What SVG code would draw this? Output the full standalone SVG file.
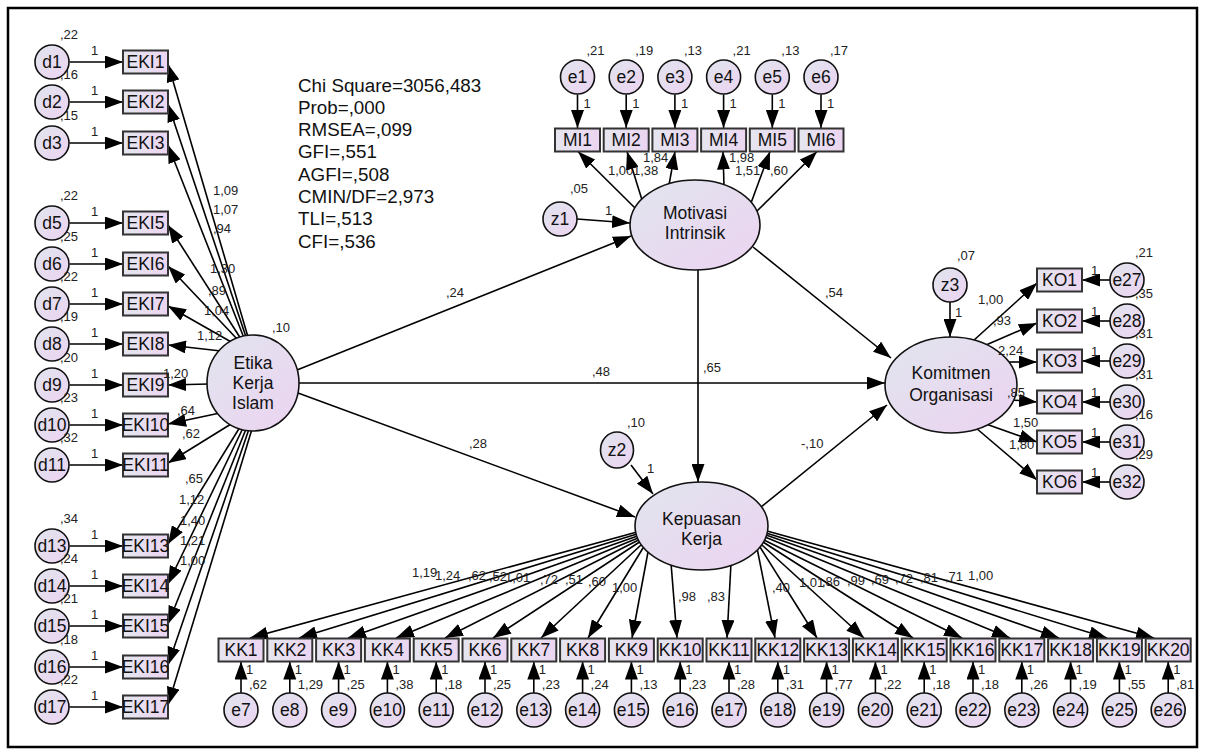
<svg xmlns="http://www.w3.org/2000/svg" width="1205" height="754" viewBox="0 0 1205 754">
<defs>
<linearGradient id="gn" x1="0" y1="0" x2="1" y2="1"><stop offset="0" stop-color="#e1e5ee"/><stop offset="1" stop-color="#ecd3f1"/></linearGradient>
<linearGradient id="gb" x1="0" y1="0" x2="1" y2="0"><stop offset="0" stop-color="#e5e6ef"/><stop offset="1" stop-color="#ecd5f1"/></linearGradient>
<marker id="ah" markerWidth="18" markerHeight="13" refX="18" refY="6.5" orient="auto" markerUnits="userSpaceOnUse"><path d="M0,0 L18,6.5 L0,13 z" fill="#000"/></marker>
<style>
.n{fill:url(#gn);stroke:#111;stroke-width:1.6}
.b{fill:url(#gb);stroke:#333;stroke-width:2}
.t{font-family:"Liberation Sans",Arial,sans-serif;font-size:17.5px;text-anchor:middle;fill:#111}
.s{font-family:"Liberation Sans",Arial,sans-serif;font-size:13px;fill:#222}
.st{font-family:"Liberation Sans",Arial,sans-serif;font-size:18.8px;fill:#111}
.c line{stroke:#000;stroke-width:1.6;marker-end:url(#ah)}
</style>
</defs>
<rect x="8" y="8" width="1189" height="739" fill="#fff" stroke="#000" stroke-width="2.5"/>
<g id="fit-stats" class="st">
<text x="298" y="91.5">Chi Square=3056,483</text>
<text x="298" y="113.8">Prob=,000</text>
<text x="298" y="136.1">RMSEA=,099</text>
<text x="298" y="158.4">GFI=,551</text>
<text x="298" y="180.7">AGFI=,508</text>
<text x="298" y="203">CMIN/DF=2,973</text>
<text x="298" y="225.3">TLI=,513</text>
<text x="298" y="247.6">CFI=,536</text>
</g>
<g id="path-labels-under" class="s"><text x="608" y="175">1,00</text></g>
<g id="connectors" class="c">
<line x1="69.5" y1="62" x2="123" y2="62"/><line x1="69.5" y1="102" x2="123" y2="102"/><line x1="69.5" y1="143" x2="123" y2="143"/><line x1="69.5" y1="223" x2="123" y2="223"/><line x1="69.5" y1="264" x2="123" y2="264"/><line x1="69.5" y1="304" x2="123" y2="304"/><line x1="69.5" y1="344" x2="123" y2="344"/><line x1="69.5" y1="385" x2="123" y2="385"/><line x1="69.5" y1="425" x2="123" y2="425"/><line x1="69.5" y1="465" x2="123" y2="465"/><line x1="69.5" y1="546" x2="123" y2="546"/><line x1="69.5" y1="586" x2="123" y2="586"/><line x1="69.5" y1="626" x2="123" y2="626"/><line x1="69.5" y1="667" x2="123" y2="667"/><line x1="69.5" y1="707" x2="123" y2="707"/>
<line x1="248" y1="337" x2="168" y2="64"/><line x1="246" y1="337" x2="168" y2="104"/><line x1="244" y1="338" x2="168" y2="145"/><line x1="241" y1="339" x2="168" y2="225"/><line x1="238" y1="340" x2="168" y2="266"/><line x1="233" y1="343" x2="168" y2="306"/><line x1="221" y1="351" x2="168" y2="345"/><line x1="209" y1="384" x2="168" y2="385"/><line x1="220" y1="413" x2="168" y2="424"/><line x1="231" y1="424" x2="168" y2="463"/><line x1="240" y1="427" x2="168" y2="544"/><line x1="243" y1="428" x2="168" y2="584"/><line x1="246" y1="429" x2="168" y2="624"/><line x1="249" y1="429" x2="168" y2="665"/><line x1="252" y1="429" x2="168" y2="705"/>
<line x1="577.5" y1="94.5" x2="577.5" y2="128"/><line x1="626.2" y1="94.5" x2="626.2" y2="128"/><line x1="674.9" y1="94.5" x2="674.9" y2="128"/><line x1="723.6" y1="94.5" x2="723.6" y2="128"/><line x1="772.3" y1="94.5" x2="772.3" y2="128"/><line x1="821" y1="94.5" x2="821" y2="128"/>
<line x1="635" y1="208" x2="578" y2="151.5"/><line x1="642" y1="200" x2="627" y2="151.5"/><line x1="669" y1="185" x2="675" y2="151.5"/><line x1="724" y1="186" x2="723" y2="151.5"/><line x1="751" y1="203" x2="770" y2="151.5"/><line x1="756" y1="212" x2="817" y2="151.5"/>
<line x1="577" y1="219" x2="630" y2="223"/>
<line x1="297" y1="370" x2="631" y2="236"/>
<line x1="299" y1="383" x2="885" y2="383"/>
<line x1="298" y1="393" x2="635" y2="517"/>
<line x1="753" y1="247" x2="891" y2="358"/>
<line x1="698" y1="268" x2="698" y2="482"/>
<line x1="761" y1="507" x2="887" y2="405"/>
<line x1="631" y1="465" x2="653" y2="494"/>
<line x1="950" y1="302" x2="950" y2="337"/>
<line x1="973" y1="341" x2="1037" y2="283"/><line x1="986" y1="345" x2="1037" y2="323"/><line x1="1008" y1="362" x2="1037" y2="362"/><line x1="1012" y1="400" x2="1037" y2="402"/><line x1="986" y1="424" x2="1037" y2="442"/><line x1="976" y1="428" x2="1037" y2="480"/>
<line x1="1110" y1="280" x2="1082" y2="280"/><line x1="1110" y1="321" x2="1082" y2="321"/><line x1="1110" y1="361" x2="1082" y2="361"/><line x1="1110" y1="402" x2="1082" y2="402"/><line x1="1110" y1="442" x2="1082" y2="442"/><line x1="1110" y1="482" x2="1082" y2="482"/>
<line x1="637" y1="532" x2="250" y2="638"/><line x1="637" y1="534" x2="299" y2="638"/><line x1="637.5" y1="536" x2="348" y2="638"/><line x1="638" y1="538" x2="396" y2="638"/><line x1="638.5" y1="540" x2="445" y2="638"/><line x1="639.5" y1="542" x2="493" y2="638"/><line x1="641" y1="545" x2="541" y2="638"/><line x1="643" y1="548" x2="588" y2="638"/><line x1="648" y1="552" x2="632" y2="638"/><line x1="671" y1="563" x2="677" y2="638"/><line x1="731" y1="563" x2="727" y2="638"/><line x1="757" y1="548" x2="775" y2="638"/><line x1="760" y1="547" x2="817" y2="638"/><line x1="762" y1="545" x2="864" y2="638"/><line x1="763" y1="542" x2="913" y2="638"/><line x1="764" y1="540" x2="962" y2="638"/><line x1="765" y1="537" x2="1010" y2="638"/><line x1="766" y1="535" x2="1059" y2="638"/><line x1="766" y1="533" x2="1107" y2="638"/><line x1="767" y1="531" x2="1154" y2="638"/>
<line x1="241" y1="693" x2="241" y2="661.5"/><line x1="289.8" y1="693" x2="289.8" y2="661.5"/><line x1="338.6" y1="693" x2="338.6" y2="661.5"/><line x1="387.4" y1="693" x2="387.4" y2="661.5"/><line x1="436.2" y1="693" x2="436.2" y2="661.5"/><line x1="485" y1="693" x2="485" y2="661.5"/><line x1="533.8" y1="693" x2="533.8" y2="661.5"/><line x1="582.6" y1="693" x2="582.6" y2="661.5"/><line x1="631.4" y1="693" x2="631.4" y2="661.5"/><line x1="680.2" y1="693" x2="680.2" y2="661.5"/><line x1="729" y1="693" x2="729" y2="661.5"/><line x1="777.8" y1="693" x2="777.8" y2="661.5"/><line x1="826.6" y1="693" x2="826.6" y2="661.5"/><line x1="875.4" y1="693" x2="875.4" y2="661.5"/><line x1="924.2" y1="693" x2="924.2" y2="661.5"/><line x1="973" y1="693" x2="973" y2="661.5"/><line x1="1021.8" y1="693" x2="1021.8" y2="661.5"/><line x1="1070.6" y1="693" x2="1070.6" y2="661.5"/><line x1="1119.4" y1="693" x2="1119.4" y2="661.5"/><line x1="1168.2" y1="693" x2="1168.2" y2="661.5"/>
</g>
<g id="etika"><ellipse class="n" cx="253" cy="383" rx="46" ry="48"/><text class="t" x="253" y="369">Etika</text><text class="t" x="253" y="389">Kerja</text><text class="t" x="253" y="409">Islam</text><text class="s" x="272" y="332">,10</text></g>
<g id="motivasi"><ellipse class="n" cx="695" cy="225" rx="65" ry="45"/><text class="t" x="695" y="219">Motivasi</text><text class="t" x="695" y="239">Intrinsik</text></g>
<g id="kepuasan"><ellipse class="n" cx="701.5" cy="526" rx="66.5" ry="44"/><text class="t" x="701.5" y="525">Kepuasan</text><text class="t" x="701.5" y="545">Kerja</text></g>
<g id="komitmen"><ellipse class="n" cx="951" cy="385" rx="66" ry="48"/><text class="t" x="951" y="379">Komitmen</text><text class="t" x="951" y="401">Organisasi</text></g>
<g id="z1"><circle class="n" cx="560" cy="219" r="17"/><text class="t" x="560" y="225">z1</text><text class="s" x="570" y="193">,05</text></g>
<g id="z2"><ellipse class="n" cx="617" cy="450" rx="16.5" ry="18"/><text class="t" x="617" y="456">z2</text><text class="s" x="627" y="427">,10</text></g>
<g id="z3"><circle class="n" cx="950" cy="285" r="17"/><text class="t" x="950" y="291">z3</text><text class="s" x="957" y="260">,07</text></g>
<g id="d1"><circle class="n" cx="52" cy="62" r="17"/><text class="t" x="52" y="68">d1</text><text class="s" x="60" y="39">,22</text></g>
<g id="d2"><circle class="n" cx="52" cy="102" r="17"/><text class="t" x="52" y="108">d2</text><text class="s" x="60" y="79">,16</text></g>
<g id="d3"><circle class="n" cx="52" cy="143" r="17"/><text class="t" x="52" y="149">d3</text><text class="s" x="60" y="120">,15</text></g>
<g id="d5"><circle class="n" cx="52" cy="223" r="17"/><text class="t" x="52" y="229">d5</text><text class="s" x="60" y="200">,22</text></g>
<g id="d6"><circle class="n" cx="52" cy="264" r="17"/><text class="t" x="52" y="270">d6</text><text class="s" x="60" y="241">,25</text></g>
<g id="d7"><circle class="n" cx="52" cy="304" r="17"/><text class="t" x="52" y="310">d7</text><text class="s" x="60" y="281">,22</text></g>
<g id="d8"><circle class="n" cx="52" cy="344" r="17"/><text class="t" x="52" y="350">d8</text><text class="s" x="60" y="321">,19</text></g>
<g id="d9"><circle class="n" cx="52" cy="385" r="17"/><text class="t" x="52" y="391">d9</text><text class="s" x="60" y="362">,20</text></g>
<g id="d10"><circle class="n" cx="52" cy="425" r="17"/><text class="t" x="52" y="431">d10</text><text class="s" x="60" y="402">,23</text></g>
<g id="d11"><circle class="n" cx="52" cy="465" r="17"/><text class="t" x="52" y="471">d11</text><text class="s" x="60" y="442">,32</text></g>
<g id="d13"><circle class="n" cx="52" cy="546" r="17"/><text class="t" x="52" y="552">d13</text><text class="s" x="60" y="523">,34</text></g>
<g id="d14"><circle class="n" cx="52" cy="586" r="17"/><text class="t" x="52" y="592">d14</text><text class="s" x="60" y="563">,24</text></g>
<g id="d15"><circle class="n" cx="52" cy="626" r="17"/><text class="t" x="52" y="632">d15</text><text class="s" x="60" y="603">,21</text></g>
<g id="d16"><circle class="n" cx="52" cy="667" r="17"/><text class="t" x="52" y="673">d16</text><text class="s" x="60" y="644">,18</text></g>
<g id="d17"><circle class="n" cx="52" cy="707" r="17"/><text class="t" x="52" y="713">d17</text><text class="s" x="60" y="684">,22</text></g>
<g id="EKI1"><rect class="b" x="123" y="50.5" width="45" height="23"/><text class="t" x="145.5" y="68">EKI1</text></g>
<g id="EKI2"><rect class="b" x="123" y="90.5" width="45" height="23"/><text class="t" x="145.5" y="108">EKI2</text></g>
<g id="EKI3"><rect class="b" x="123" y="131.5" width="45" height="23"/><text class="t" x="145.5" y="149">EKI3</text></g>
<g id="EKI5"><rect class="b" x="123" y="211.5" width="45" height="23"/><text class="t" x="145.5" y="229">EKI5</text></g>
<g id="EKI6"><rect class="b" x="123" y="252.5" width="45" height="23"/><text class="t" x="145.5" y="270">EKI6</text></g>
<g id="EKI7"><rect class="b" x="123" y="292.5" width="45" height="23"/><text class="t" x="145.5" y="310">EKI7</text></g>
<g id="EKI8"><rect class="b" x="123" y="332.5" width="45" height="23"/><text class="t" x="145.5" y="350">EKI8</text></g>
<g id="EKI9"><rect class="b" x="123" y="373.5" width="45" height="23"/><text class="t" x="145.5" y="391">EKI9</text></g>
<g id="EKI10"><rect class="b" x="123" y="413.5" width="45" height="23"/><text class="t" x="145.5" y="431">EKI10</text></g>
<g id="EKI11"><rect class="b" x="123" y="453.5" width="45" height="23"/><text class="t" x="145.5" y="471">EKI11</text></g>
<g id="EKI13"><rect class="b" x="123" y="534.5" width="45" height="23"/><text class="t" x="145.5" y="552">EKI13</text></g>
<g id="EKI14"><rect class="b" x="123" y="574.5" width="45" height="23"/><text class="t" x="145.5" y="592">EKI14</text></g>
<g id="EKI15"><rect class="b" x="123" y="614.5" width="45" height="23"/><text class="t" x="145.5" y="632">EKI15</text></g>
<g id="EKI16"><rect class="b" x="123" y="655.5" width="45" height="23"/><text class="t" x="145.5" y="673">EKI16</text></g>
<g id="EKI17"><rect class="b" x="123" y="695.5" width="45" height="23"/><text class="t" x="145.5" y="713">EKI17</text></g>
<g id="e1"><circle class="n" cx="577.5" cy="77" r="17"/><text class="t" x="577.5" y="83">e1</text><text class="s" x="586.5" y="55">,21</text></g>
<g id="e2"><circle class="n" cx="626.2" cy="77" r="17"/><text class="t" x="626.2" y="83">e2</text><text class="s" x="635.2" y="55">,19</text></g>
<g id="e3"><circle class="n" cx="674.9" cy="77" r="17"/><text class="t" x="674.9" y="83">e3</text><text class="s" x="683.9" y="55">,13</text></g>
<g id="e4"><circle class="n" cx="723.6" cy="77" r="17"/><text class="t" x="723.6" y="83">e4</text><text class="s" x="732.6" y="55">,21</text></g>
<g id="e5"><circle class="n" cx="772.3" cy="77" r="17"/><text class="t" x="772.3" y="83">e5</text><text class="s" x="781.3" y="55">,13</text></g>
<g id="e6"><circle class="n" cx="821" cy="77" r="17"/><text class="t" x="821" y="83">e6</text><text class="s" x="830" y="55">,17</text></g>
<g id="MI1"><rect class="b" x="555" y="128.5" width="45" height="23"/><text class="t" x="577.5" y="146">MI1</text></g>
<g id="MI2"><rect class="b" x="603.7" y="128.5" width="45" height="23"/><text class="t" x="626.2" y="146">MI2</text></g>
<g id="MI3"><rect class="b" x="652.4" y="128.5" width="45" height="23"/><text class="t" x="674.9" y="146">MI3</text></g>
<g id="MI4"><rect class="b" x="701.1" y="128.5" width="45" height="23"/><text class="t" x="723.6" y="146">MI4</text></g>
<g id="MI5"><rect class="b" x="749.8" y="128.5" width="45" height="23"/><text class="t" x="772.3" y="146">MI5</text></g>
<g id="MI6"><rect class="b" x="798.5" y="128.5" width="45" height="23"/><text class="t" x="821" y="146">MI6</text></g>
<g id="KO1"><rect class="b" x="1037" y="268.5" width="45" height="23"/><text class="t" x="1059.5" y="286">KO1</text></g>
<g id="KO2"><rect class="b" x="1037" y="309.5" width="45" height="23"/><text class="t" x="1059.5" y="327">KO2</text></g>
<g id="KO3"><rect class="b" x="1037" y="349.5" width="45" height="23"/><text class="t" x="1059.5" y="367">KO3</text></g>
<g id="KO4"><rect class="b" x="1037" y="390.5" width="45" height="23"/><text class="t" x="1059.5" y="408">KO4</text></g>
<g id="KO5"><rect class="b" x="1037" y="430.5" width="45" height="23"/><text class="t" x="1059.5" y="448">KO5</text></g>
<g id="KO6"><rect class="b" x="1037" y="470.5" width="45" height="23"/><text class="t" x="1059.5" y="488">KO6</text></g>
<g id="e27"><circle class="n" cx="1127" cy="280" r="17"/><text class="t" x="1127" y="286">e27</text><text class="s" x="1135" y="257">,21</text></g>
<g id="e28"><circle class="n" cx="1127" cy="321" r="17"/><text class="t" x="1127" y="327">e28</text><text class="s" x="1135" y="298">,35</text></g>
<g id="e29"><circle class="n" cx="1127" cy="361" r="17"/><text class="t" x="1127" y="367">e29</text><text class="s" x="1135" y="338">,31</text></g>
<g id="e30"><circle class="n" cx="1127" cy="402" r="17"/><text class="t" x="1127" y="408">e30</text><text class="s" x="1135" y="379">,31</text></g>
<g id="e31"><circle class="n" cx="1127" cy="442" r="17"/><text class="t" x="1127" y="448">e31</text><text class="s" x="1135" y="419">,16</text></g>
<g id="e32"><circle class="n" cx="1127" cy="482" r="17"/><text class="t" x="1127" y="488">e32</text><text class="s" x="1135" y="459">,29</text></g>
<g id="KK1"><rect class="b" x="218.5" y="638.5" width="45" height="23"/><text class="t" x="241" y="656">KK1</text></g>
<g id="KK2"><rect class="b" x="267.3" y="638.5" width="45" height="23"/><text class="t" x="289.8" y="656">KK2</text></g>
<g id="KK3"><rect class="b" x="316.1" y="638.5" width="45" height="23"/><text class="t" x="338.6" y="656">KK3</text></g>
<g id="KK4"><rect class="b" x="364.9" y="638.5" width="45" height="23"/><text class="t" x="387.4" y="656">KK4</text></g>
<g id="KK5"><rect class="b" x="413.7" y="638.5" width="45" height="23"/><text class="t" x="436.2" y="656">KK5</text></g>
<g id="KK6"><rect class="b" x="462.5" y="638.5" width="45" height="23"/><text class="t" x="485" y="656">KK6</text></g>
<g id="KK7"><rect class="b" x="511.3" y="638.5" width="45" height="23"/><text class="t" x="533.8" y="656">KK7</text></g>
<g id="KK8"><rect class="b" x="560.1" y="638.5" width="45" height="23"/><text class="t" x="582.6" y="656">KK8</text></g>
<g id="KK9"><rect class="b" x="608.9" y="638.5" width="45" height="23"/><text class="t" x="631.4" y="656">KK9</text></g>
<g id="KK10"><rect class="b" x="657.7" y="638.5" width="45" height="23"/><text class="t" x="680.2" y="656">KK10</text></g>
<g id="KK11"><rect class="b" x="706.5" y="638.5" width="45" height="23"/><text class="t" x="729" y="656">KK11</text></g>
<g id="KK12"><rect class="b" x="755.3" y="638.5" width="45" height="23"/><text class="t" x="777.8" y="656">KK12</text></g>
<g id="KK13"><rect class="b" x="804.1" y="638.5" width="45" height="23"/><text class="t" x="826.6" y="656">KK13</text></g>
<g id="KK14"><rect class="b" x="852.9" y="638.5" width="45" height="23"/><text class="t" x="875.4" y="656">KK14</text></g>
<g id="KK15"><rect class="b" x="901.7" y="638.5" width="45" height="23"/><text class="t" x="924.2" y="656">KK15</text></g>
<g id="KK16"><rect class="b" x="950.5" y="638.5" width="45" height="23"/><text class="t" x="973" y="656">KK16</text></g>
<g id="KK17"><rect class="b" x="999.3" y="638.5" width="45" height="23"/><text class="t" x="1021.8" y="656">KK17</text></g>
<g id="KK18"><rect class="b" x="1048.1" y="638.5" width="45" height="23"/><text class="t" x="1070.6" y="656">KK18</text></g>
<g id="KK19"><rect class="b" x="1096.9" y="638.5" width="45" height="23"/><text class="t" x="1119.4" y="656">KK19</text></g>
<g id="KK20"><rect class="b" x="1145.7" y="638.5" width="45" height="23"/><text class="t" x="1168.2" y="656">KK20</text></g>
<g id="e7"><circle class="n" cx="241" cy="710" r="17"/><text class="t" x="241" y="716">e7</text><text class="s" x="249" y="689">,62</text></g>
<g id="e8"><circle class="n" cx="289.8" cy="710" r="17"/><text class="t" x="289.8" y="716">e8</text><text class="s" x="297.8" y="689">1,29</text></g>
<g id="e9"><circle class="n" cx="338.6" cy="710" r="17"/><text class="t" x="338.6" y="716">e9</text><text class="s" x="346.6" y="689">,25</text></g>
<g id="e10"><circle class="n" cx="387.4" cy="710" r="17"/><text class="t" x="387.4" y="716">e10</text><text class="s" x="395.4" y="689">,38</text></g>
<g id="e11"><circle class="n" cx="436.2" cy="710" r="17"/><text class="t" x="436.2" y="716">e11</text><text class="s" x="444.2" y="689">,18</text></g>
<g id="e12"><circle class="n" cx="485" cy="710" r="17"/><text class="t" x="485" y="716">e12</text><text class="s" x="493" y="689">,25</text></g>
<g id="e13"><circle class="n" cx="533.8" cy="710" r="17"/><text class="t" x="533.8" y="716">e13</text><text class="s" x="541.8" y="689">,23</text></g>
<g id="e14"><circle class="n" cx="582.6" cy="710" r="17"/><text class="t" x="582.6" y="716">e14</text><text class="s" x="590.6" y="689">,24</text></g>
<g id="e15"><circle class="n" cx="631.4" cy="710" r="17"/><text class="t" x="631.4" y="716">e15</text><text class="s" x="639.4" y="689">,13</text></g>
<g id="e16"><circle class="n" cx="680.2" cy="710" r="17"/><text class="t" x="680.2" y="716">e16</text><text class="s" x="688.2" y="689">,23</text></g>
<g id="e17"><circle class="n" cx="729" cy="710" r="17"/><text class="t" x="729" y="716">e17</text><text class="s" x="737" y="689">,28</text></g>
<g id="e18"><circle class="n" cx="777.8" cy="710" r="17"/><text class="t" x="777.8" y="716">e18</text><text class="s" x="785.8" y="689">,31</text></g>
<g id="e19"><circle class="n" cx="826.6" cy="710" r="17"/><text class="t" x="826.6" y="716">e19</text><text class="s" x="834.6" y="689">,77</text></g>
<g id="e20"><circle class="n" cx="875.4" cy="710" r="17"/><text class="t" x="875.4" y="716">e20</text><text class="s" x="883.4" y="689">,22</text></g>
<g id="e21"><circle class="n" cx="924.2" cy="710" r="17"/><text class="t" x="924.2" y="716">e21</text><text class="s" x="932.2" y="689">,18</text></g>
<g id="e22"><circle class="n" cx="973" cy="710" r="17"/><text class="t" x="973" y="716">e22</text><text class="s" x="981" y="689">,18</text></g>
<g id="e23"><circle class="n" cx="1021.8" cy="710" r="17"/><text class="t" x="1021.8" y="716">e23</text><text class="s" x="1029.8" y="689">,26</text></g>
<g id="e24"><circle class="n" cx="1070.6" cy="710" r="17"/><text class="t" x="1070.6" y="716">e24</text><text class="s" x="1078.6" y="689">,19</text></g>
<g id="e25"><circle class="n" cx="1119.4" cy="710" r="17"/><text class="t" x="1119.4" y="716">e25</text><text class="s" x="1127.4" y="689">,55</text></g>
<g id="e26"><circle class="n" cx="1168.2" cy="710" r="17"/><text class="t" x="1168.2" y="716">e26</text><text class="s" x="1176.2" y="689">,81</text></g>
<g id="path-labels" class="s">
<text x="213" y="195">1,09</text><text x="213" y="214">1,07</text><text x="213" y="233">,94</text><text x="210" y="273">1,30</text><text x="208" y="295">,89</text><text x="204" y="315">1,04</text><text x="197" y="340">1,12</text><text x="163" y="378">1,20</text><text x="177" y="415">,64</text><text x="182" y="438">,62</text><text x="185" y="483">,65</text><text x="179" y="504">1,12</text><text x="180" y="525">1,40</text><text x="180" y="545">1,21</text><text x="180" y="565">1,00</text>
<text x="91" y="55">1</text><text x="91" y="95">1</text><text x="91" y="136">1</text><text x="91" y="216">1</text><text x="91" y="257">1</text><text x="91" y="297">1</text><text x="91" y="337">1</text><text x="91" y="378">1</text><text x="91" y="418">1</text><text x="91" y="458">1</text><text x="91" y="539">1</text><text x="91" y="579">1</text><text x="91" y="619">1</text><text x="91" y="660">1</text><text x="91" y="700">1</text>
<text x="633" y="175">1,38</text><text x="643" y="162">1,84</text><text x="729" y="162">1,98</text><text x="735" y="175">1,51</text><text x="770" y="175">,60</text>
<text x="583.5" y="108">1</text><text x="632.2" y="108">1</text><text x="680.9" y="108">1</text><text x="729.6" y="108">1</text><text x="778.3" y="108">1</text><text x="827" y="108">1</text>
<text x="605" y="215">1</text><text x="647" y="473">1</text><text x="955" y="317">1</text>
<text x="446" y="297">,24</text><text x="592" y="376">,48</text><text x="703" y="372">,65</text><text x="825" y="297">,54</text><text x="469" y="448">,28</text><text x="801" y="448">-,10</text>
<text x="978" y="304">1,00</text><text x="993" y="325">,93</text><text x="998" y="355">2,24</text><text x="1007" y="397">,85</text><text x="1013" y="427">1,50</text><text x="1009" y="449">1,80</text>
<text x="1091" y="275">1</text><text x="1091" y="316">1</text><text x="1091" y="356">1</text><text x="1091" y="397">1</text><text x="1091" y="437">1</text><text x="1091" y="477">1</text>
<text x="412" y="577">1,19</text><text x="435" y="580">1,24</text><text x="468" y="580">,62</text><text x="489" y="581">,52</text><text x="505" y="582">1,01</text><text x="540" y="584">,72</text><text x="565" y="584">,51</text><text x="588" y="586">,60</text><text x="612" y="592">1,00</text>
<text x="678" y="601">,98</text><text x="707" y="601">,83</text><text x="772" y="592">,40</text><text x="799" y="587">1,01</text><text x="822" y="586">,86</text><text x="847" y="585">,99</text><text x="871" y="584">,69</text><text x="895" y="583">,72</text><text x="920" y="582">,81</text><text x="945" y="581">,71</text><text x="968" y="580">1,00</text>
<text x="246" y="674">1</text><text x="294.8" y="674">1</text><text x="343.6" y="674">1</text><text x="392.4" y="674">1</text><text x="441.2" y="674">1</text><text x="490" y="674">1</text><text x="538.8" y="674">1</text><text x="587.6" y="674">1</text><text x="636.4" y="674">1</text><text x="685.2" y="674">1</text><text x="734" y="674">1</text><text x="782.8" y="674">1</text><text x="831.6" y="674">1</text><text x="880.4" y="674">1</text><text x="929.2" y="674">1</text><text x="978" y="674">1</text><text x="1026.8" y="674">1</text><text x="1075.6" y="674">1</text><text x="1124.4" y="674">1</text><text x="1173.2" y="674">1</text>
</g>
</svg>
